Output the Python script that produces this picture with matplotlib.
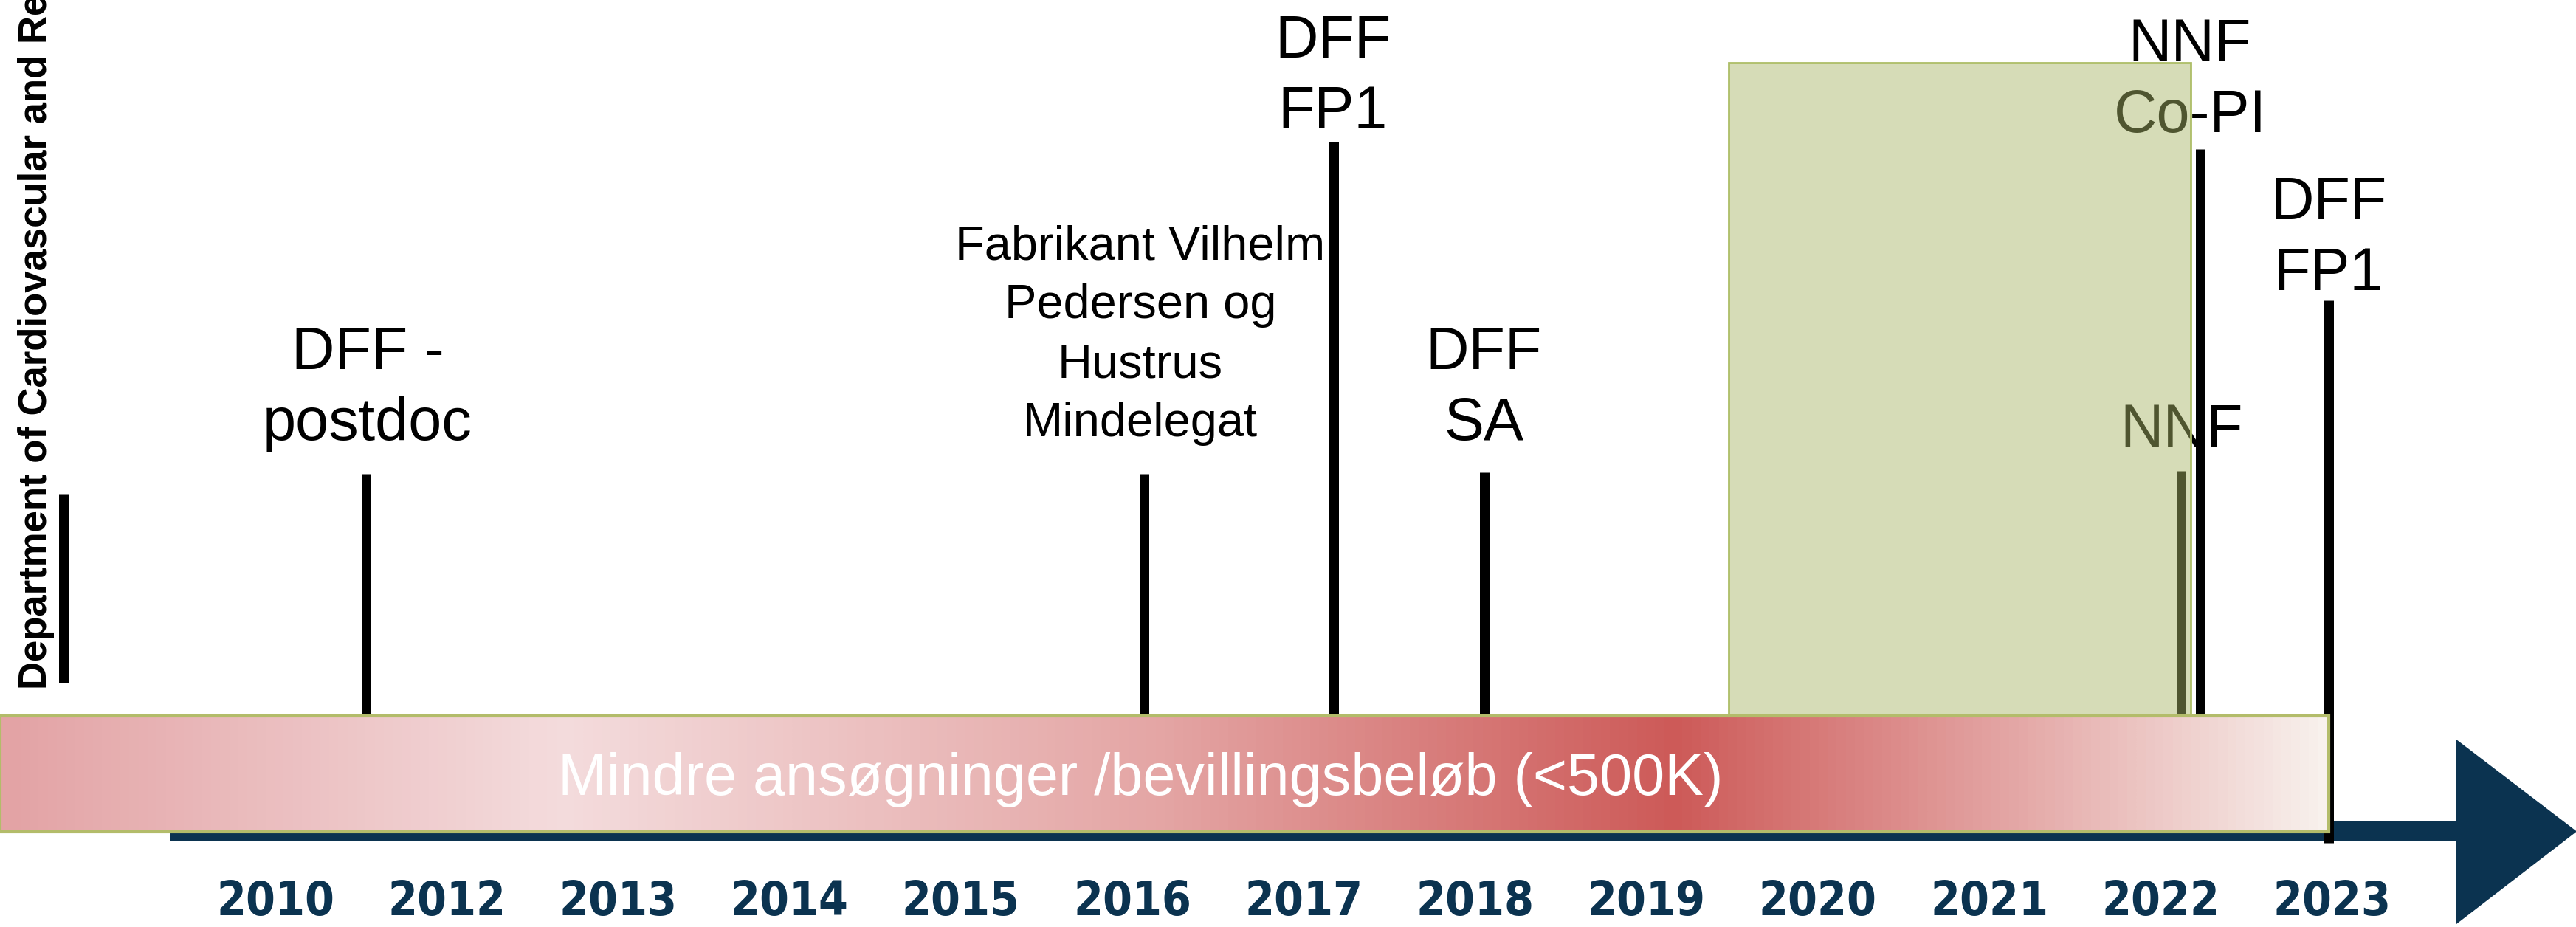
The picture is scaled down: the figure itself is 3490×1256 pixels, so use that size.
import numpy as np
import matplotlib
matplotlib.use("Agg")
import matplotlib.pyplot as plt
from matplotlib.colors import LinearSegmentedColormap
from matplotlib.patches import Rectangle, Polygon
from matplotlib import font_manager

# ---------------- data ----------------
years = ['2010', '2012', '2013', '2014', '2015', '2016', '2017',
         '2018', '2019', '2020', '2021', '2022', '2023']
year_pos = np.arange(len(years))

event_labels = [
    [],
    ['DFF -', 'postdoc'],
    ['Fabrikant Vilhelm', 'Pedersen og', 'Hustrus', 'Mindelegat'],
    ['DFF', 'FP1'],
    ['DFF', 'SA'],
    ['NNF'],
    ['NNF', 'Co-PI'],
    ['DFF', 'FP1'],
]
event_x = [-1.236, 0.528, 5.069, 6.174, 7.054, 11.120, 11.232, 11.981]
event_top = [670, 642, 642, 192, 640, 638, 202, 407]
event_bottom = [925, 970, 970, 970, 970, 970, 970, 1142]
label_x = [None, 0.538, 5.047, 6.171, 7.050, 11.120, 11.171, 11.981]
label_first_baseline = [None, 500, 351, 78, 500, 605, 83, 297]
label_small = [False, False, True, False, False, False, False, False]

band_text = 'Mindre ansøgninger /bevillingsbeløb (<500K)'
band_text_x = 5.047
side_text = 'Department of Cardiovascular and Renal Research'

highlight_span = (8.480, 11.176)   # green period box (year index)
highlight_top = 85

band_span = (-1.6064, 11.981)
band_y = (970, 1127)
shaft_span = (-0.616, 12.726)
shaft_y = (1113, 1140)
head_y = (1002, 1252)
head_tip = 13.428

# ---------------- figure ----------------
W, H = 3491, 1256
fig = plt.figure(figsize=(W / 100, H / 100), dpi=100)
ax = fig.add_axes([0, 0, 1, 1])
ax.set_xlim(-1.6064, 13.428)
ax.set_ylim(H, 0)
ax.axis('off')

names = {f.name for f in font_manager.fontManager.ttflist}
narrow = 'Liberation Sans Narrow' in names
SANS = ['Liberation Sans', 'DejaVu Sans']

navy = '#0b3350'

# arrow shaft and head
ax.add_patch(Rectangle((shaft_span[0], shaft_y[0]), shaft_span[1] - shaft_span[0],
                       shaft_y[1] - shaft_y[0], facecolor=navy, edgecolor='none', zorder=1))
ax.add_patch(Polygon([[shaft_span[1], head_y[0]], [head_tip, sum(shaft_y) / 2],
                      [shaft_span[1], head_y[1]]], closed=True,
                     facecolor=navy, edgecolor='none', zorder=1))

# event lines
lw = 13 * 72 / 100
for i, (x, t, b) in enumerate(zip(event_x, event_top, event_bottom)):
    ax.plot([x, x], [t, b], color='black', lw=lw, solid_capstyle='butt', zorder=2)

# labels
for i, lines in enumerate(event_labels):
    if not lines:
        continue
    if label_small[i]:
        fs, step = 46.8, 80
    else:
        fs, step = 58.3, 96
    for k, line in enumerate(lines):
        ax.text(label_x[i], label_first_baseline[i] + k * step, line,
                ha='center', va='baseline', fontsize=fs, family=SANS,
                color='black', zorder=2)

# green highlight box (semi-transparent)
ax.add_patch(Rectangle((highlight_span[0], highlight_top),
                       highlight_span[1] - highlight_span[0], band_y[0] - highlight_top,
                       facecolor='#a9b667', alpha=0.47, edgecolor='none', zorder=3))
ax.add_patch(Rectangle((highlight_span[0], highlight_top),
                       highlight_span[1] - highlight_span[0], band_y[0] - highlight_top,
                       facecolor='none', edgecolor='#adbd66', lw=2, zorder=3))

# gradient band
cmap = LinearSegmentedColormap.from_list('band', [
    (0.0, '#e3a3a5'), (0.24, '#f4dcdd'), (0.5, '#e4a5a4'),
    (0.72, '#cd5a58'), (0.86, '#e3a3a2'), (1.0, '#f8f1ed')])
grad = np.linspace(0, 1, 512).reshape(1, -1)
ax.imshow(grad, cmap=cmap, aspect='auto', interpolation='bilinear',
          extent=[band_span[0], band_span[1], band_y[1], band_y[0]], zorder=4)
ax.add_patch(Rectangle((band_span[0], band_y[0]), band_span[1] - band_span[0],
                       band_y[1] - band_y[0], facecolor='none', edgecolor='#b3bc6a',
                       lw=3, zorder=5))
ax.set_xlim(-1.6064, 13.428)
ax.set_ylim(H, 0)
ax.text(band_text_x, 1077, band_text, ha='center',
        va='baseline', fontsize=57, family=SANS, color='white', zorder=6)

# year labels
for p, y in zip(year_pos, years):
    ax.text(p, 1240, y, ha='center', va='baseline', fontsize=46,
            family='DejaVu Sans', fontstretch='condensed', fontweight='bold',
            color=navy, zorder=6)

# vertical side text
if narrow:
    ax.text(-1.6064 + 63 / 232.2, 934, side_text, rotation=90, rotation_mode='anchor',
            ha='left', va='baseline', fontsize=47, fontweight='bold',
            family=['Liberation Sans Narrow', 'Liberation Sans'], color='black',
            zorder=6, clip_on=True)
else:
    ax.text(-1.6064 + 63 / 232.2, 934, side_text, rotation=90, rotation_mode='anchor',
            ha='left', va='baseline', fontsize=38, fontweight='bold',
            family=SANS, color='black', zorder=6, clip_on=True)

fig.savefig('out.png', dpi=100)
